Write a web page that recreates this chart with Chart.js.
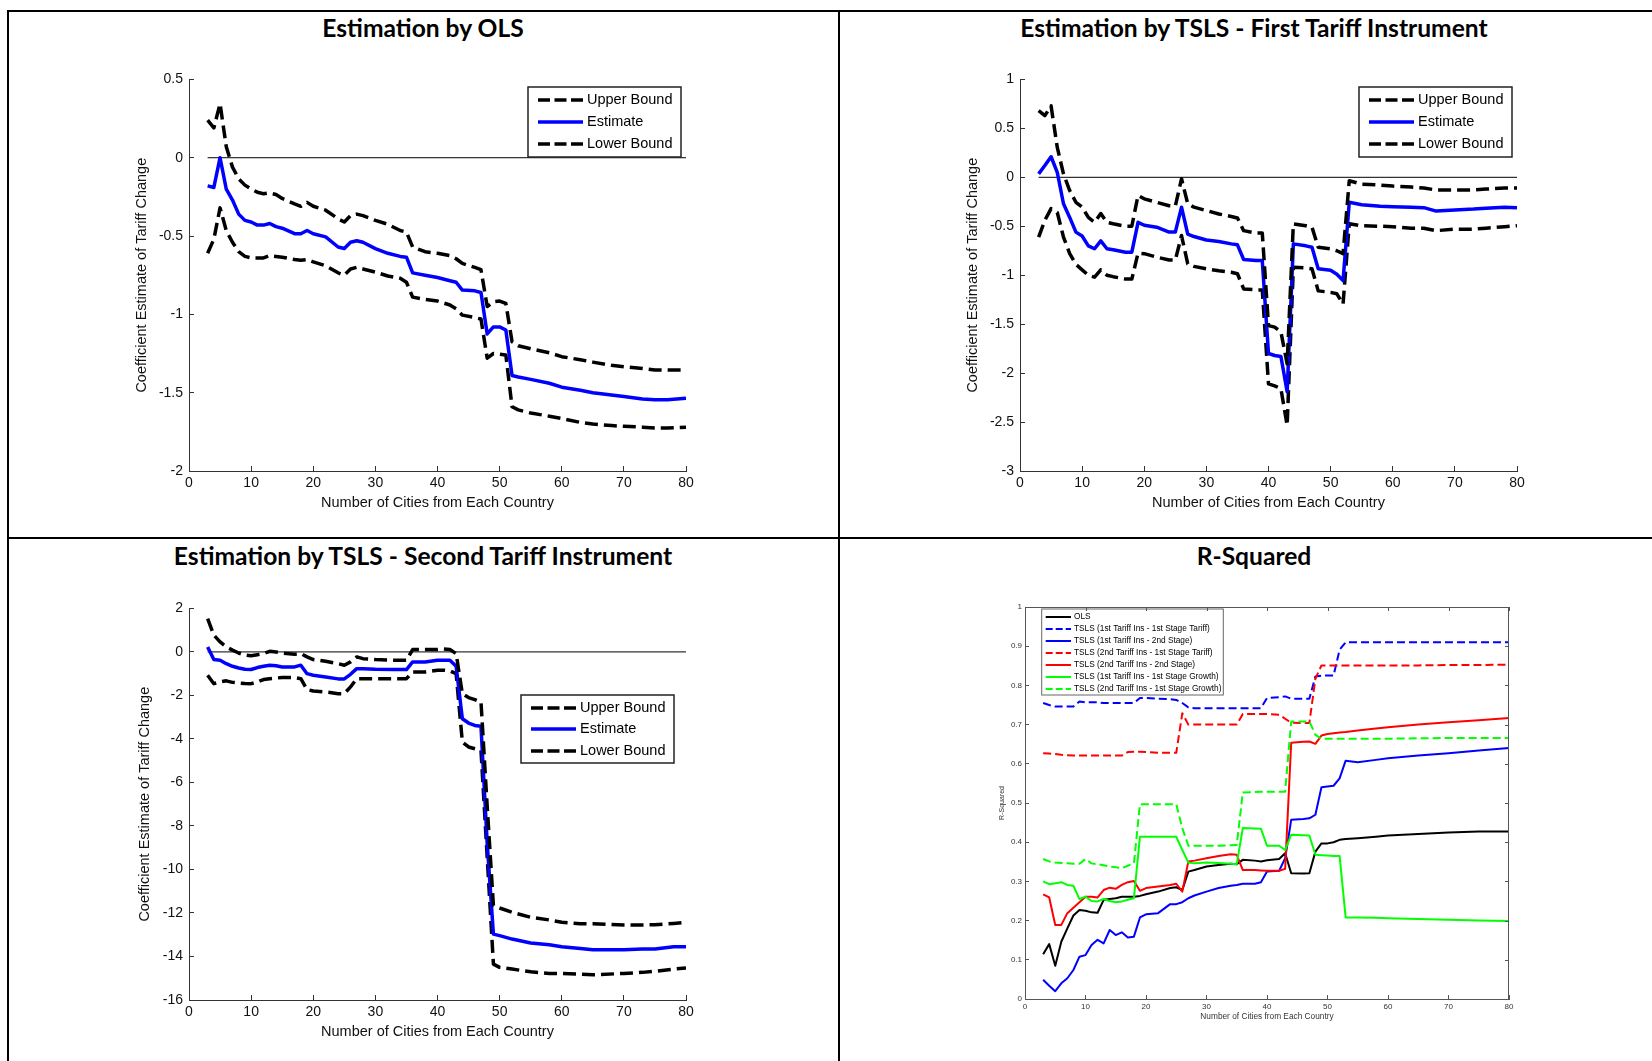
<!DOCTYPE html>
<html>
<head>
<meta charset="utf-8">
<script src="https://cdn.jsdelivr.net/npm/chart.js@4.4.0/dist/chart.umd.min.js"></script>
<style>
  body { margin: 0; background: #fff; width: 1652px; height: 1061px; overflow: hidden; position: relative; }
  .rule { position: absolute; background: #000; }
  .title { position: absolute; font-family: Lato, "Open Sans", sans-serif; font-weight: 700; font-size: 24.6px; color: #000;
           transform: translate(-50%, -50%); white-space: nowrap; }
  canvas { position: absolute; }
</style>
</head>
<body>
<div class="rule" style="left:7px;top:10px;width:1645px;height:2px"></div>
<div class="rule" style="left:7px;top:10px;width:2px;height:1051px"></div>
<div class="rule" style="left:838px;top:10px;width:2px;height:1051px"></div>
<div class="rule" style="left:7px;top:537px;width:1645px;height:2px"></div>

<div class="title" style="left:423px;top:27px">Estimation by OLS</div>
<div class="title" style="left:1254px;top:27px">Estimation by TSLS - First Tariff Instrument</div>
<div class="title" style="left:423px;top:555px">Estimation by TSLS - Second Tariff Instrument</div>
<div class="title" style="left:1254px;top:555px">R-Squared</div>

<canvas id="ols" width="610" height="470" style="left:110px;top:60px"></canvas>
<canvas id="tsls1" width="610" height="470" style="left:941px;top:60px"></canvas>
<canvas id="tsls2" width="610" height="470" style="left:110px;top:589px"></canvas>
<canvas id="rsq" width="540" height="440" style="left:990px;top:590px"></canvas>

<script>
// x ticks shared by all panels
const xTicks = [0, 10, 20, 30, 40, 50, 60, 70, 80];

// ---- Estimation by OLS ----
const olsX = [3,4,5,6,7,8,9,10,11,12,13,14,15,17,18,19,20,22,24,25,26,27,28,30,32,34,35,36,38,40,42,43,44,46,47,48,49,50,51,52,53,55,58,60,63,65,68,70,73,75,77,80];
const olsUpper = [0.24,0.19,0.345,0.07,-0.06,-0.135,-0.175,-0.20,-0.22,-0.23,-0.225,-0.235,-0.26,-0.295,-0.31,-0.285,-0.31,-0.335,-0.39,-0.41,-0.37,-0.36,-0.37,-0.40,-0.425,-0.465,-0.475,-0.57,-0.60,-0.61,-0.625,-0.645,-0.675,-0.70,-0.715,-0.95,-0.92,-0.915,-0.93,-1.175,-1.20,-1.22,-1.245,-1.27,-1.29,-1.305,-1.325,-1.335,-1.345,-1.355,-1.355,-1.355];
const olsEst = [-0.18,-0.19,0.00,-0.20,-0.27,-0.36,-0.40,-0.41,-0.43,-0.43,-0.42,-0.44,-0.45,-0.485,-0.485,-0.465,-0.485,-0.505,-0.57,-0.58,-0.54,-0.53,-0.54,-0.58,-0.61,-0.63,-0.635,-0.735,-0.75,-0.765,-0.785,-0.795,-0.845,-0.85,-0.86,-1.125,-1.08,-1.08,-1.10,-1.39,-1.40,-1.415,-1.44,-1.465,-1.485,-1.50,-1.515,-1.525,-1.54,-1.545,-1.545,-1.535];
const olsLower = [-0.61,-0.52,-0.32,-0.465,-0.54,-0.60,-0.63,-0.64,-0.64,-0.64,-0.625,-0.63,-0.635,-0.65,-0.655,-0.65,-0.665,-0.69,-0.735,-0.75,-0.71,-0.70,-0.71,-0.73,-0.755,-0.77,-0.795,-0.89,-0.905,-0.915,-0.94,-0.965,-1.005,-1.02,-1.03,-1.28,-1.25,-1.255,-1.26,-1.59,-1.61,-1.63,-1.65,-1.665,-1.69,-1.70,-1.71,-1.715,-1.72,-1.725,-1.725,-1.72];
const olsYTicks = [-2, -1.5, -1, -0.5, 0, 0.5];

// ---- TSLS first tariff instrument ----
const tsls1X = [3,4,5,6,7,8,9,10,11,12,13,14,15,17,18,19,20,22,24,25,26,27,28,30,32,34,35,36,38,39,40,41,42,43,44,46,47,48,50,51,52,53,55,58,60,63,65,67,70,73,75,78,80];
const tsls1Upper = [0.68,0.63,0.73,0.305,0.035,-0.135,-0.255,-0.305,-0.41,-0.46,-0.37,-0.46,-0.475,-0.50,-0.50,-0.185,-0.22,-0.255,-0.29,-0.295,-0.015,-0.27,-0.305,-0.34,-0.375,-0.40,-0.415,-0.545,-0.57,-0.57,-1.515,-1.53,-1.58,-1.905,-0.475,-0.495,-0.51,-0.715,-0.73,-0.75,-0.78,-0.035,-0.07,-0.08,-0.09,-0.10,-0.11,-0.13,-0.13,-0.13,-0.12,-0.11,-0.11];
const tsls1Est = [0.035,0.12,0.21,0.05,-0.27,-0.41,-0.56,-0.60,-0.70,-0.73,-0.65,-0.73,-0.74,-0.765,-0.765,-0.46,-0.49,-0.51,-0.56,-0.56,-0.305,-0.58,-0.605,-0.64,-0.655,-0.68,-0.69,-0.84,-0.85,-0.85,-1.80,-1.82,-1.83,-2.19,-0.68,-0.70,-0.715,-0.935,-0.95,-0.99,-1.055,-0.255,-0.28,-0.295,-0.30,-0.305,-0.31,-0.345,-0.335,-0.325,-0.315,-0.305,-0.31];
const tsls1Lower = [-0.61,-0.44,-0.32,-0.36,-0.61,-0.78,-0.89,-0.945,-1.00,-1.02,-0.945,-1.00,-1.015,-1.04,-1.04,-0.775,-0.78,-0.815,-0.845,-0.845,-0.595,-0.885,-0.91,-0.935,-0.955,-0.97,-0.985,-1.14,-1.15,-1.15,-2.11,-2.13,-2.16,-2.535,-0.92,-0.925,-0.935,-1.16,-1.175,-1.19,-1.295,-0.475,-0.495,-0.50,-0.505,-0.52,-0.52,-0.545,-0.53,-0.53,-0.52,-0.505,-0.495];
const tsls1YTicks = [-3, -2.5, -2, -1.5, -1, -0.5, 0, 0.5, 1];

// ---- TSLS second tariff instrument ----
const tsls2X = [3,4,5,6,7,8,9,10,11,12,13,14,15,17,18,19,20,22,24,25,26,27,28,30,33,35,36,38,40,41,42,43,44,45,46,47,48,49,50,52,55,58,60,63,65,70,73,75,78,80];
const tsls2Upper = [1.53,0.77,0.46,0.23,0.08,-0.05,-0.15,-0.18,-0.13,-0.08,0.03,0.0,-0.05,-0.11,-0.08,-0.23,-0.35,-0.43,-0.54,-0.61,-0.46,-0.23,-0.31,-0.35,-0.38,-0.38,0.11,0.11,0.11,0.14,0.11,-0.08,-1.92,-2.10,-2.19,-2.30,-7.1,-11.66,-11.77,-11.97,-12.2,-12.32,-12.43,-12.5,-12.5,-12.55,-12.55,-12.54,-12.48,-12.43];
const tsls2Est = [0.23,-0.35,-0.38,-0.54,-0.66,-0.74,-0.80,-0.81,-0.72,-0.66,-0.61,-0.64,-0.69,-0.69,-0.61,-1.0,-1.07,-1.15,-1.24,-1.24,-1.03,-0.77,-0.77,-0.80,-0.81,-0.81,-0.46,-0.46,-0.38,-0.38,-0.38,-0.66,-3.07,-3.27,-3.38,-3.42,-8.8,-12.97,-13.04,-13.2,-13.38,-13.46,-13.55,-13.63,-13.69,-13.69,-13.66,-13.66,-13.55,-13.55];
const tsls2Lower = [-1.07,-1.46,-1.38,-1.33,-1.40,-1.43,-1.45,-1.46,-1.38,-1.27,-1.23,-1.2,-1.18,-1.18,-1.23,-1.73,-1.80,-1.84,-1.92,-1.92,-1.61,-1.23,-1.23,-1.23,-1.23,-1.23,-0.92,-0.92,-0.84,-0.84,-0.87,-1.0,-4.14,-4.37,-4.45,-4.53,-9.44,-14.35,-14.5,-14.58,-14.7,-14.78,-14.78,-14.81,-14.84,-14.78,-14.73,-14.68,-14.58,-14.53];
const tsls2YTicks = [-16, -14, -12, -10, -8, -6, -4, -2, 0, 2];

// ---- R-squared ----
const rsqX = [3,4,5,6,7,8,9,10,11,12,13,14,15,16,17,18,19,20,22,24,25,26,27,28,30,32,34,35,36,38,39,40,42,43,44,46,47,48,49,50,51,52,53,55,58,60,65,70,75,80];
const rsqOls = [.114,.14,.085,.146,.18,.213,.227,.225,.221,.22,.253,.255,.257,.261,.261,.261,.263,.267,.274,.283,.285,.278,.325,.329,.338,.342,.345,.344,.355,.353,.351,.354,.357,.372,.321,.32,.321,.376,.397,.397,.40,.406,.408,.41,.414,.417,.421,.425,.427,.427];
const rsqT1Stage1 = [.755,.75,.746,.746,.746,.746,.759,.757,.757,.757,.755,.755,.755,.755,.755,.755,.768,.768,.766,.765,.763,.755,.744,.742,.742,.742,.742,.742,.742,.742,.742,.768,.77,.772,.766,.766,.766,.823,.825,.825,.825,.891,.91,.91,.91,.91,.91,.91,.91,.91];
const rsqT1Stage2 = [.049,.034,.02,.04,.053,.074,.108,.112,.138,.151,.142,.176,.163,.17,.157,.159,.208,.216,.219,.242,.242,.247,.257,.264,.274,.283,.289,.291,.294,.294,.298,.325,.327,.359,.457,.459,.461,.47,.54,.542,.544,.563,.608,.604,.61,.614,.621,.627,.634,.64];
const rsqT2Stage1 = [.627,.626,.625,.623,.622,.621,.621,.621,.621,.621,.621,.621,.621,.621,.63,.631,.631,.63,.628,.628,.628,.729,.70,.70,.70,.70,.70,.70,.727,.727,.727,.727,.725,.715,.705,.704,.704,.817,.851,.851,.851,.851,.851,.851,.851,.851,.851,.852,.852,.853];
const rsqT2Stage2 = [.267,.259,.189,.189,.219,.233,.247,.261,.261,.259,.278,.284,.281,.291,.298,.301,.276,.283,.287,.291,.294,.274,.351,.353,.359,.365,.369,.368,.329,.329,.328,.327,.327,.332,.654,.656,.657,.651,.672,.676,.678,.68,.681,.685,.69,.693,.70,.706,.711,.717];
const rsqT1Growth = [.30,.293,.295,.298,.291,.289,.255,.261,.25,.249,.255,.25,.247,.249,.253,.257,.414,.414,.414,.414,.414,.38,.348,.346,.348,.347,.345,.344,.436,.435,.434,.391,.391,.38,.419,.418,.417,.368,.367,.366,.365,.365,.208,.208,.207,.206,.204,.202,.20,.199];
const rsqT2Growth = [.357,.351,.348,.347,.346,.345,.345,.357,.346,.344,.341,.338,.336,.334,.34,.346,.497,.497,.497,.497,.497,.436,.391,.391,.391,.391,.392,.393,.527,.528,.529,.529,.529,.529,.708,.708,.708,.674,.664,.664,.664,.664,.664,.664,.664,.664,.665,.666,.666,.666];
const rsqYTicks = [0, 0.1, 0.2, 0.3, 0.4, 0.5, 0.6, 0.7, 0.8, 0.9, 1];

const FONT = '"Liberation Sans", Arial, sans-serif';

function series(label, xs, ys, color, width, dash, inLegend) {
  return {
    label: label,
    data: xs.map((x, i) => ({ x: x, y: ys[i] })),
    borderColor: color,
    borderWidth: width,
    borderDash: dash,
    borderJoinStyle: 'round',
    pointRadius: 0,
    tension: 0,
    fill: false,
    inLegend: inLegend
  };
}

// legend with a box, drawn inside the axes like the MATLAB one
const boxLegend = {
  id: 'boxLegend',
  afterDatasetsDraw(chart, args, o) {
    const ctx = chart.ctx;
    ctx.save();
    ctx.fillStyle = '#fff';
    ctx.fillRect(o.x, o.y, o.w, o.h);
    ctx.setLineDash([]);
    ctx.strokeStyle = o.border;
    ctx.lineWidth = o.borderWidth;
    ctx.strokeRect(o.x, o.y, o.w, o.h);
    ctx.font = o.font;
    ctx.textBaseline = 'middle';
    ctx.textAlign = 'left';
    const items = chart.data.datasets.filter(d => d.inLegend);
    items.forEach((d, i) => {
      const y = Math.round(o.y + o.rowTop + i * o.rowGap);
      ctx.beginPath();
      ctx.strokeStyle = d.borderColor;
      ctx.lineWidth = d.borderWidth;
      ctx.setLineDash(o.sampleDash && d.borderDash.length ? o.sampleDash : []);
      ctx.moveTo(o.x + o.sx0, y);
      ctx.lineTo(o.x + o.sx1, y);
      ctx.stroke();
      ctx.setLineDash([]);
      ctx.fillStyle = '#000';
      ctx.fillText(d.label, o.x + o.tx, y);
    });
    ctx.restore();
  }
};

// box and mirrored ticks for the R-squared axes
const frame = {
  id: 'frame',
  afterDraw(chart, args, o) {
    if (!o.on) return;
    const ctx = chart.ctx, a = chart.chartArea, sx = chart.scales.x, sy = chart.scales.y;
    ctx.save();
    ctx.strokeStyle = o.color;
    ctx.lineWidth = 1;
    ctx.beginPath();
    ctx.moveTo(a.left, a.top + 0.5); ctx.lineTo(a.right, a.top + 0.5);
    ctx.moveTo(a.right - 0.5, a.top); ctx.lineTo(a.right - 0.5, a.bottom);
    sx.ticks.forEach(t => {
      const px = Math.round(sx.getPixelForValue(t.value)) + 0.5;
      ctx.moveTo(px, a.top); ctx.lineTo(px, a.top + o.len);
    });
    sy.ticks.forEach(t => {
      const py = Math.round(sy.getPixelForValue(t.value)) + 0.5;
      ctx.moveTo(a.right, py); ctx.lineTo(a.right - o.len, py);
    });
    ctx.stroke();
    ctx.restore();
  }
};

function axes(p) {
  return {
    x: {
      type: 'linear', min: 0, max: 80,
      afterFit: s => { s.height = p.xH; },
      afterBuildTicks: s => { s.ticks = xTicks.map(v => ({ value: v })); },
      ticks: { font: { family: FONT, size: p.tick }, color: p.labelColor, padding: p.xPad, maxRotation: 0, autoSkip: false,
               callback: v => String(v) },
      grid: { drawOnChartArea: false, drawTicks: true, tickLength: -p.tl, color: p.axisColor },
      border: { display: true, color: p.axisColor, width: 1 },
      title: { display: true, text: 'Number of Cities from Each Country', color: p.labelColor,
               font: { family: FONT, size: p.titleSize }, padding: { top: 0, bottom: p.xTitlePad } }
    },
    y: {
      type: 'linear', min: p.yTicks[0], max: p.yTicks[p.yTicks.length - 1],
      afterFit: s => { s.width = p.yW; },
      afterBuildTicks: s => { s.ticks = p.yTicks.map(v => ({ value: v })); },
      ticks: { font: { family: FONT, size: p.tick }, color: p.labelColor, padding: p.yPad, autoSkip: false,
               callback: v => String(v) },
      grid: { drawOnChartArea: false, drawTicks: true, tickLength: -p.tl, color: p.axisColor },
      border: { display: true, color: p.axisColor, width: 1 },
      title: { display: true, text: p.yTitle, color: p.labelColor,
               font: { family: FONT, size: p.yTitleSize || p.titleSize }, padding: { top: p.yTitlePad, bottom: 0 } }
    }
  };
}

function bandPanel(id, xs, up, est, lo, yTicks, legendBox, yTitlePad) {
  const datasets = [
    series('Upper Bound', xs, up, '#000', 3.5, [13, 6], true),
    series('Estimate', xs, est, '#0000ff', 3.5, [], true),
    series('Lower Bound', xs, lo, '#000', 3.5, [13, 6], true),
    series('zero', [3, 80], [0, 0], '#000', 1, [], false)
  ];
  const p = {
    xH: 59, yW: 79, tick: 14, titleSize: 14.5, tl: 5, xPad: 8.6, yPad: 11,
    labelColor: '#111', axisColor: '#333', xTitlePad: 18.8, yTitlePad: yTitlePad,
    yTicks: yTicks, yTitle: 'Coefficient Estimate of Tariff Change'
  };
  new Chart(document.getElementById(id), {
    type: 'line',
    data: { datasets: datasets },
    plugins: [boxLegend, frame],
    options: {
      responsive: false, animation: false, events: [],
      layout: { padding: { left: 0, top: 19, right: 34, bottom: 0 } },
      plugins: {
        legend: { display: false }, tooltip: { enabled: false },
        boxLegend: Object.assign({ border: '#222', borderWidth: 1.5, font: '14.5px ' + FONT,
                                   sx0: 10, sx1: 55, tx: 59, sampleDash: [12, 4.5] }, legendBox),
        frame: { on: false }
      },
      scales: axes(p)
    }
  });
}

bandPanel('ols', olsX, olsUpper, olsEst, olsLower, olsYTicks,
  { x: 418, y: 27, w: 153, h: 70, rowTop: 13, rowGap: 22 }, 23.3);
bandPanel('tsls1', tsls1X, tsls1Upper, tsls1Est, tsls1Lower, tsls1YTicks,
  { x: 418, y: 27, w: 153, h: 70, rowTop: 13, rowGap: 22 }, 22.8);
bandPanel('tsls2', tsls2X, tsls2Upper, tsls2Est, tsls2Lower, tsls2YTicks,
  { x: 411, y: 106, w: 153, h: 68, rowTop: 12.5, rowGap: 21.8 }, 26.7);

// R-squared panel
(function () {
  const rsqSets = [
    series('OLS', rsqX, rsqOls, '#000', 2, [], true),
    series('TSLS (1st Tariff Ins - 1st Stage Tariff)', rsqX, rsqT1Stage1, '#0000ff', 2, [8, 4], true),
    series('TSLS (1st Tariff Ins - 2nd Stage)', rsqX, rsqT1Stage2, '#0000ff', 2, [], true),
    series('TSLS (2nd Tariff Ins - 1st Stage Tariff)', rsqX, rsqT2Stage1, '#ff0000', 2, [8, 4], true),
    series('TSLS (2nd Tariff Ins - 2nd Stage)', rsqX, rsqT2Stage2, '#ff0000', 2, [], true),
    series('TSLS (1st Tariff Ins - 1st Stage Growth)', rsqX, rsqT1Growth, '#00ff00', 2, [], true),
    series('TSLS (2nd Tariff Ins - 1st Stage Growth)', rsqX, rsqT2Growth, '#00ff00', 2, [8, 4], true)
  ];
  // later series on top, as in the original plot
  rsqSets.forEach((d, i) => { d.order = rsqSets.length - i; });
  const p = {
    xH: 31, yW: 35, tick: 8, titleSize: 8.3, yTitleSize: 7, tl: 4, xPad: 6.9, yPad: 7,
    labelColor: '#333', axisColor: '#555', xTitlePad: 8.2, yTitlePad: 7.5,
    yTicks: rsqYTicks, yTitle: 'R-Squared'
  };
  new Chart(document.getElementById('rsq'), {
    type: 'line',
    data: { datasets: rsqSets },
    plugins: [boxLegend, frame],
    options: {
      responsive: false, animation: false, events: [],
      layout: { padding: { left: 0, top: 17, right: 21, bottom: 0 } },
      plugins: {
        legend: { display: false }, tooltip: { enabled: false },
        boxLegend: { x: 51.7, y: 19, w: 181.6, h: 86, rowTop: 7.7, rowGap: 12, border: '#666', borderWidth: 1,
                     font: '8.3px ' + FONT, sx0: 4, sx1: 29.3, tx: 32.3, sampleDash: [7, 3] },
        frame: { on: true, color: '#555', len: 4 }
      },
      scales: axes(p)
    }
  });
})();
</script>
</body>
</html>
